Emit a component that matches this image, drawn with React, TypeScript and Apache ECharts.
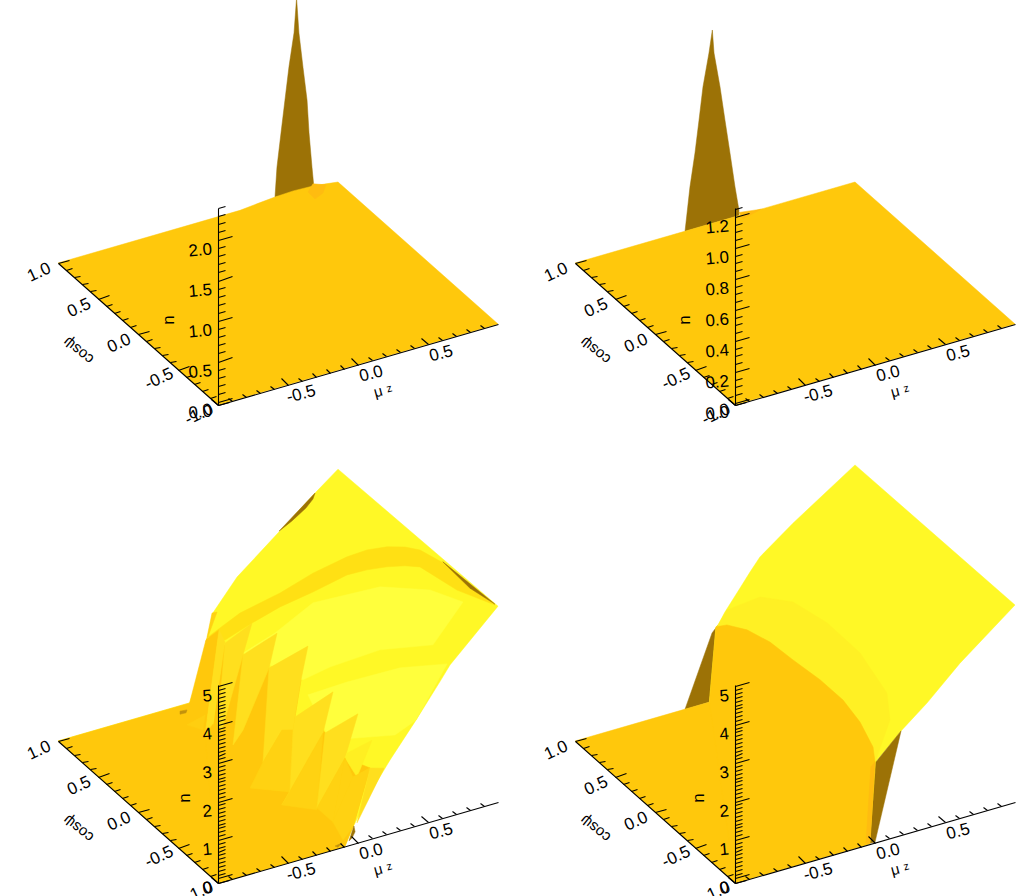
import React, { useEffect, useRef } from "react";
import * as echarts from "echarts";

type V = [number, number, number];
type Facet = [string, V[]];

// ---- tick labels -------------------------------------------------------
const MU_LABELS = ["-0.5", "0.0", "0.5"];
const MU_LABEL_VALUES = [-0.5, 0, 0.5];
const COS_LABELS = ["-1.0", "-0.5", "0.0", "0.5", "1.0"];
const COS_LABEL_VALUES = [-1, -0.5, 0, 0.5, 1];
const N_LABELS_A = ["0.0", "0.5", "1.0", "1.5", "2.0"];
const N_VALUES_A = [0, 0.5, 1, 1.5, 2];
const N_LABELS_B = ["0.0", "0.2", "0.4", "0.6", "0.8", "1.0", "1.2"];
const N_VALUES_B = [0, 0.2, 0.4, 0.6, 0.8, 1, 1.2];
const N_LABELS_C = ["0", "1", "2", "3", "4", "5"];
const N_VALUES_C = [0, 1, 2, 3, 4, 5];

// ---- surfaces, vertices are [mu_z, cos psi, n above the floor] ---------
const PANEL_A: Facet[] = [
  ["dark", [[0.704, 1, 2.42], [0.686, 1, 2.0], [0.65, 1, 1.6], [0.621, 1, 1.2], [0.593, 1, 0.81], [0.564, 1, 0.4], [0.55, 1, 0.04], [0.829, 1, 0], [0.814, 1, 0.28], [0.793, 1, 0.71], [0.779, 1, 1.12], [0.75, 1, 1.54], [0.721, 1, 1.98]]],
  ["floor", [[-1, 1, 0], [-1, -1, 0], [1, -1, 0], [1, 1, 0], [0.914, 1, 0.02], [0.821, 1, 0.04], [0.68, 1, 0.05], [0.55, 1, 0.04], [0.42, 1, 0.02], [0.3, 1, 0]]],
  ["deep", [[0.707, 0.8, 0.3], [0.8, 0.8, 0.24], [0.779, 0.8, 0.15], [0.721, 0.8, 0.105], [0.671, 0.8, 0.216]]],
];

const PANEL_B: Facet[] = [
  ["dark", [[-0.019, 1, 1.247], [-0.043, 1, 1.105], [-0.086, 1, 0.897], [-0.114, 1, 0.691], [-0.143, 1, 0.486], [-0.179, 1, 0.275], [-0.214, 1, 0], [0.171, 1, 0], [0.171, 1, 0.036], [0.143, 1, 0.192], [0.107, 1, 0.421], [0.071, 1, 0.643], [0.036, 1, 0.865], [-0.007, 1, 1.095]]],
  ["floor", [[-1, 1, 0], [-1, -1, 0], [1, -1, 0], [1, 1, 0]]],
  ["deep", [[0.171, 1, 0.02], [0.33, 1, 0.0], [0.2, 1, -0.03]]],
];

const PANEL_C: Facet[] = [
  ["top", [[1, 1, 4.97], [1, -1, 5.1], [0.657, -1, 3.93], [0.593, -1, 3.61], [0.414, -1, 2.75], [0.229, -1, 1.91], [0.1, -1, 1.26], [-0.036, -1, 0.44], [-0.093, -1, 0], [-1, -1, 0], [-1, 1, 0], [-0.06, 1, 0], [-0.036, 1, 0.23], [0.064, 1, 1.51], [0.107, 1, 2.17], [0.279, 1, 2.92], [0.586, 1, 3.8], [0.836, 1, 4.52]]],
  ["bright", [[-0.25, 0, 3.35], [-0.021, 0, 3.63], [0.25, 0, 4.13], [0.729, 0, 4.04], [1, -0.15, 3.95], [1, -0.5625, 4.4], [1, -0.1875, 2.59], [0.729, 0, 2.4], [0.371, 0, 2.33], [0.179, 0, 2.2]]],
  ["bright", [[0.214, 0, 1.77], [0.493, 0, 1.81], [0.871, 0, 1.78], [0.636, -1, 3.98], [0.414, -1, 2.75], [0.264, -1, 2.52], [0.371, 0, 0.43]]],
  ["band", [[0.3, 1, 1.96], [0.586, 1, 2.18], [0.821, 1, 2.45], [0.493, 0, 5.07], [0.636, 0, 5.1], [0.779, 0, 5.03], [0.907, 0, 4.89], [1, -0.025, 4.76], [1, -0.3625, 4.99], [1, -0.9625, 5.06], [1, -0.4875, 4.57], [1, -0.025, 4.32], [0.907, 0, 4.4], [0.779, 0, 4.51], [0.636, 0, 4.58], [0.493, 0, 4.6], [0.821, 1, 1.96], [0.586, 1, 1.82], [0.386, 1, 1.61], [0.193, 1, 1.37], [0.071, 1, 1.58]]],
  ["dark", [[0.836, 1, 4.52], [0.579, 1, 3.8], [0.671, 1, 3.97], [0.771, 1, 4.2], [0.821, 1, 4.38]]],
  ["dark", [[1, -0.31, 4.98], [1, -0.96, 5.08], [1, -0.65, 4.92]]],
  ["floor", [[-1, 1, 0], [-1, -1, 0], [-0.093, -1, 0], [-0.06, 1, 0]]],
  ["floor", [[-0.386, 0, 3.7], [-0.25, 0, 3.3], [-0.064, 0, 2.76], [0.164, 0, 2.21], [0.121, 0, 1.29], [0.321, 0, 0.74], [-0.093, -1, 2.3], [0.086, -1, 1.85], [-0.036, -1, 0.44], [-0.093, -1, 0], [-1, -1, 0], [-0.521, 0, 1.5], [-0.464, 0, 1.65]]],
  ["gold", [[-0.379, 0, 3.74], [-0.186, 0, 4.06], [-0.25, 0, 3.3], [-0.4, 0, 1.5], [-0.429, 0, 1.66]]],
  ["gold", [[-0.25, 0, 3.3], [-0.007, 0, 3.61], [-0.064, 0, 2.76], [-0.25, 0, 1.34], [-0.321, 0, 1.03]]],
  ["gold", [[-0.064, 0, 2.76], [0.214, 0, 3.04], [0.164, 0, 2.21], [0.121, 0, 1.29], [0.107, 0, 0.97], [0.029, 0, 1.05], [-0.107, 0, 0.36]]],
  ["mid", [[-0.107, 0, 0.36], [0.029, 0, 1.05], [0.107, 0, 0.97], [-0.486, -1, 1.83], [-0.771, -1, 2.23]]],
  ["gold", [[0.121, 0, 1.29], [0.393, 0, 1.66], [0.321, 0, 0.66], [-0.543, -1, 1.55], [-0.486, -1, 1.83], [0.107, 0, 0.97]]],
  ["mid", [[0.321, 0, 0.66], [-0.293, -1, 1.16], [-0.543, -1, 1.55]]],
  ["gold", [[0.336, 0, 0.65], [0.571, 0, 0.9], [-0.093, -1, 2.3], [-0.293, -1, 1.21]]],
  ["mid", [[-0.093, -1, 2.3], [-0.179, -1, 0.72], [-0.293, -1, 1.21]]],
  ["pale", [[-0.079, -1, 2.41], [0.1, -1, 2.56], [-0.007, -1, 1.71], [-0.093, -1, 2.3]]],
  ["mid", [[-0.093, -1, 2.3], [-0.036, -1, 1.74], [-0.179, -1, 0.72]]],
  ["mid", [[-0.007, -1, 1.71], [0.086, -1, 1.85], [-0.036, -1, 1.74]]],
  ["mid", [[0.086, -1, 1.85], [-0.036, -1, 0.44], [-0.107, -1, 0.18], [-0.179, -1, 0.72], [-0.036, -1, 1.74]]],
  ["gold", [[0.086, -1, 1.85], [0.186, -1, 1.74], [-0.007, -1, 0.52]]],
  ["mid", [[0.1, 1, 2.17], [0.136, 1, 2.16], [0.071, 1, 1.58], [0.057, 1, 1.46]]],
  ["floor", [[0.057, 1, 1.52], [0.15, 1, 1.68], [-0.521, 0, 1.5], [-0.06, 1, 0]]],
  ["gold", [[0.15, 1, 1.68], [0.193, 1, 1.32], [-0.464, 0, 1.75], [-0.521, 0, 1.5]]],
  ["shade", [[-0.65, 0, 1.9], [-0.521, 0, 2.02], [-0.536, 0, 1.65]]],
  ["speck", [[-0.7, 0, 2.31], [-0.65, 0, 2.29], [-0.657, 0, 2.22], [-0.7, 0, 2.23]]],
  ["dark", [[-0.064, -1, 0.11], [-0.029, -1, 0.46], [-0.021, -1, 0.3], [-0.043, -1, 0.16]]],
  ["speck", [[-0.164, -1, 0.08], [-0.114, -1, 0.11], [-0.143, -1, 0.03]]],
];

const PANEL_D: Facet[] = [
  ["dark", [[0.021, 1, 1.94], [-0.021, 1, 1.78], [-0.214, 1, 0], [-0.04, 1, 0]]],
  ["top", [[1, 1, 5.08], [1, -1, 5.13], [0.607, -1, 4.03], [0.371, -1, 3.24], [0.186, -1, 2.71], [0.014, -1, 2.13], [-0.036, -1, 0.02], [-0.04, 1, 0], [0.007, 1, 1.91], [0.021, 1, 1.94], [0.071, 1, 2.23], [0.179, 1, 2.74], [0.25, 1, 3.08], [0.321, 1, 3.4], [0.557, 1, 4.03]]],
  ["soft", [[0.021, 1, 1.94], [-0.486, 0, 4.72], [-0.25, 0, 4.81], [-0.014, 0, 4.43], [0.229, 0, 3.63], [0.464, 0, 2.6], [0.657, 0, 1.35], [0.107, -1, 3.08], [0.014, -1, 2.21], [0, -1, 2.1]]],
  ["dark", [[0.186, -1, 2.71], [0.007, -1, 2.09], [-0.036, -1, 0.02], [0, -1, 0.01]]],
  ["floor", [[-1, 1, 0], [-1, -1, 0], [-0.036, -1, 0], [-0.04, 1, 0]]],
  ["floor", [[-0.04, 1, 0], [0.007, 1, 1.91], [-0.486, 0, 4.33], [-0.343, 0, 4.05], [-0.179, 0, 3.56], [-0.014, 0, 2.92], [0.179, 0, 2.2], [0.343, 0, 1.5], [-0.107, -1, 3.25], [-0.014, -1, 2.5], [0, -1, 2.1], [-0.036, -1, 0.02], [-1, -1, 0]]],
  ["deep", [[0, -1, 2.1], [-0.036, -1, 0.02], [-0.065, -1, 0.04], [-0.03, -1, 2.0]]],
];

// ---- colours and page geometry -----------------------------------------
const SHADES: Record<string, string> = {
  floor: "#FFC80C", deep: "#FFBC10", shade: "#FFCE10", mid: "#FFD212", gold: "#FFDF1E",
  band: "#FFE014", pale: "#FFEF22", soft: "#FFF024", top: "#FFF826", bright: "#FFFF3C", dark: "#9C7206", speck: "#C2920C",
};
const panels = [
  { fx: 218, fy: 405, s: 81, off: 0.037, top: 2.395, step: 0.1, majorEvery: 5, nDx: -50, labels: N_LABELS_A, vals: N_VALUES_A, facets: PANEL_A },
  { fx: 735, fy: 405, s: 155, off: 0.013, top: 1.258, step: 0.05, majorEvery: 4, nDx: -51, labels: N_LABELS_B, vals: N_VALUES_B, facets: PANEL_B },
  { fx: 218, fy: 883, s: 38.4, off: 0.12, top: 5.04, step: 0.1, majorEvery: 10, nDx: -34, labels: N_LABELS_C, vals: N_VALUES_C, facets: PANEL_C },
  { fx: 735, fy: 883, s: 38.4, off: 0.12, top: 5.04, step: 0.1, majorEvery: 10, nDx: -37, labels: N_LABELS_C, vals: N_VALUES_C, facets: PANEL_D },
];
const FONT = '"Liberation Sans", Arial, sans-serif';
type Panel = (typeof panels)[number];

function project(p: Panel, mu: number, c: number, n: number): [number, number] {
  const a = mu + 1;
  const b = c + 1;
  return [p.fx + 140 * a - 80 * b, p.fy - 40.5 * a - 71 * b - p.s * n];
}

type Mark =
  | { k: "line"; from: [number, number]; to: [number, number] }
  | { k: "text"; at: [number, number]; text: string; rot: number; size: number; align?: string };

function axisMarks(p: Panel): Mark[] {
  const m: Mark[] = [];
  const line = (a: [number, number], b: [number, number]) => m.push({ k: "line", from: a, to: b });
  // n axis
  line(project(p, -1, -1, 0), project(p, -1, -1, p.top + p.off));
  const count = Math.round(p.top / p.step);
  for (let i = 0; i <= count; i++) {
    const v = i * p.step + p.off;
    const major = i % p.majorEvery === 0;
    line(project(p, -1, -1, v), project(p, major ? -0.9 : -0.95, -1, v));
  }
  p.labels.forEach((t, i) => {
    const [x, y] = project(p, -1, -1, p.vals[i] + p.off);
    m.push({ k: "text", at: [x - 6, y + 9], text: t, rot: 5, size: 17, align: "right" });
  });
  // mu axis
  line(project(p, -1, -1, 0), project(p, 1, -1, 0));
  for (let i = 0; i <= 19; i++) {
    const mu = -1 + i * 0.1;
    const major = i % 5 === 0;
    line(project(p, mu, -1, 0), project(p, mu, major ? -0.91 : -0.955, 0));
  }
  MU_LABELS.forEach((t, i) => {
    const [x, y] = project(p, MU_LABEL_VALUES[i], -1, 0);
    m.push({ k: "text", at: [x + 13, y + 9], text: t, rot: 15, size: 17 });
  });
  // cos psi axis
  line(project(p, -1, -1, 0), project(p, -1, 1, 0));
  for (let i = 0; i <= 20; i++) {
    const c = -1 + i * 0.1;
    const major = i % 5 === 0;
    line(project(p, -1, c, 0), project(p, major ? -0.92 : -0.96, c, 0));
  }
  COS_LABELS.forEach((t, i) => {
    const [x, y] = project(p, -1, COS_LABEL_VALUES[i], 0);
    m.push({ k: "text", at: [x - 19, y + 9], text: t, rot: 25, size: 17 });
  });
  // titles
  m.push({ k: "text", at: [p.fx + p.nDx, p.fy - 85], text: "n", rot: 90, size: 17 });
  m.push({ k: "text", at: [p.fx - 140, p.fy - 54], text: "cos\u03C8", rot: 141, size: 15 });
  m.push({ k: "text", at: [p.fx + 160, p.fy - 14], text: "\u03BC", rot: 15, size: 15 });
  m.push({ k: "text", at: [p.fx + 171, p.fy - 17], text: "z", rot: 15, size: 11 });
  return m;
}

const crisp = (v: number) => Math.round(v) + 0.5;

export default function App() {
  const ref = useRef<HTMLDivElement>(null);
  useEffect(() => {
    const chart = echarts.init(ref.current!, undefined, { renderer: "svg" });
    const surfaceSeries = panels.map((p) => ({
      type: "custom",
      coordinateSystem: "cartesian2d",
      clip: false,
      silent: true,
      data: p.facets.map((_, i) => [i, i]),
      renderItem: (params: any, api: any) => {
        const [shade, verts] = p.facets[params.dataIndex];
        const fill = SHADES[shade];
        return {
          type: "polygon",
          shape: { points: verts.map((v) => api.coord(project(p, v[0], v[1], v[2]))) },
          style: { fill, stroke: fill, lineWidth: 0.5 },
        };
      },
    }));
    const axisSeries = panels.map((p) => {
      const marks = axisMarks(p);
      return {
        type: "custom",
        coordinateSystem: "cartesian2d",
        clip: false,
        silent: true,
        z: 5,
        data: marks.map((_, i) => [i, i]),
        renderItem: (params: any, api: any) => {
          const mk = marks[params.dataIndex];
          if (mk.k === "line") {
            const a = api.coord(mk.from);
            const b = api.coord(mk.to);
            return {
              type: "line",
              shape: { x1: crisp(a[0]), y1: crisp(a[1]), x2: crisp(b[0]), y2: crisp(b[1]) },
              style: { stroke: "#000", lineWidth: 1.1 },
            };
          }
          const at = api.coord(mk.at);
          return {
            type: "text",
            x: at[0],
            y: at[1],
            rotation: (mk.rot * Math.PI) / 180,
            style: {
              text: mk.text,
              fill: "#000",
              font: `${mk.size}px ${FONT}`,
              align: mk.align ?? "center",
              verticalAlign: "middle",
            },
          };
        },
      };
    });
    chart.setOption({
      animation: false,
      backgroundColor: "#fff",
      grid: { left: 0, right: 0, top: 0, bottom: 0 },
      xAxis: { type: "value", min: 0, max: 1030, show: false },
      yAxis: { type: "value", min: 0, max: 896, inverse: true, show: false },
      tooltip: { show: false },
      series: [...surfaceSeries, ...axisSeries],
    });
    return () => chart.dispose();
  }, []);
  return <div ref={ref} style={{ position: "absolute", left: 0, top: 0, width: 1030, height: 896 }} />;
}
